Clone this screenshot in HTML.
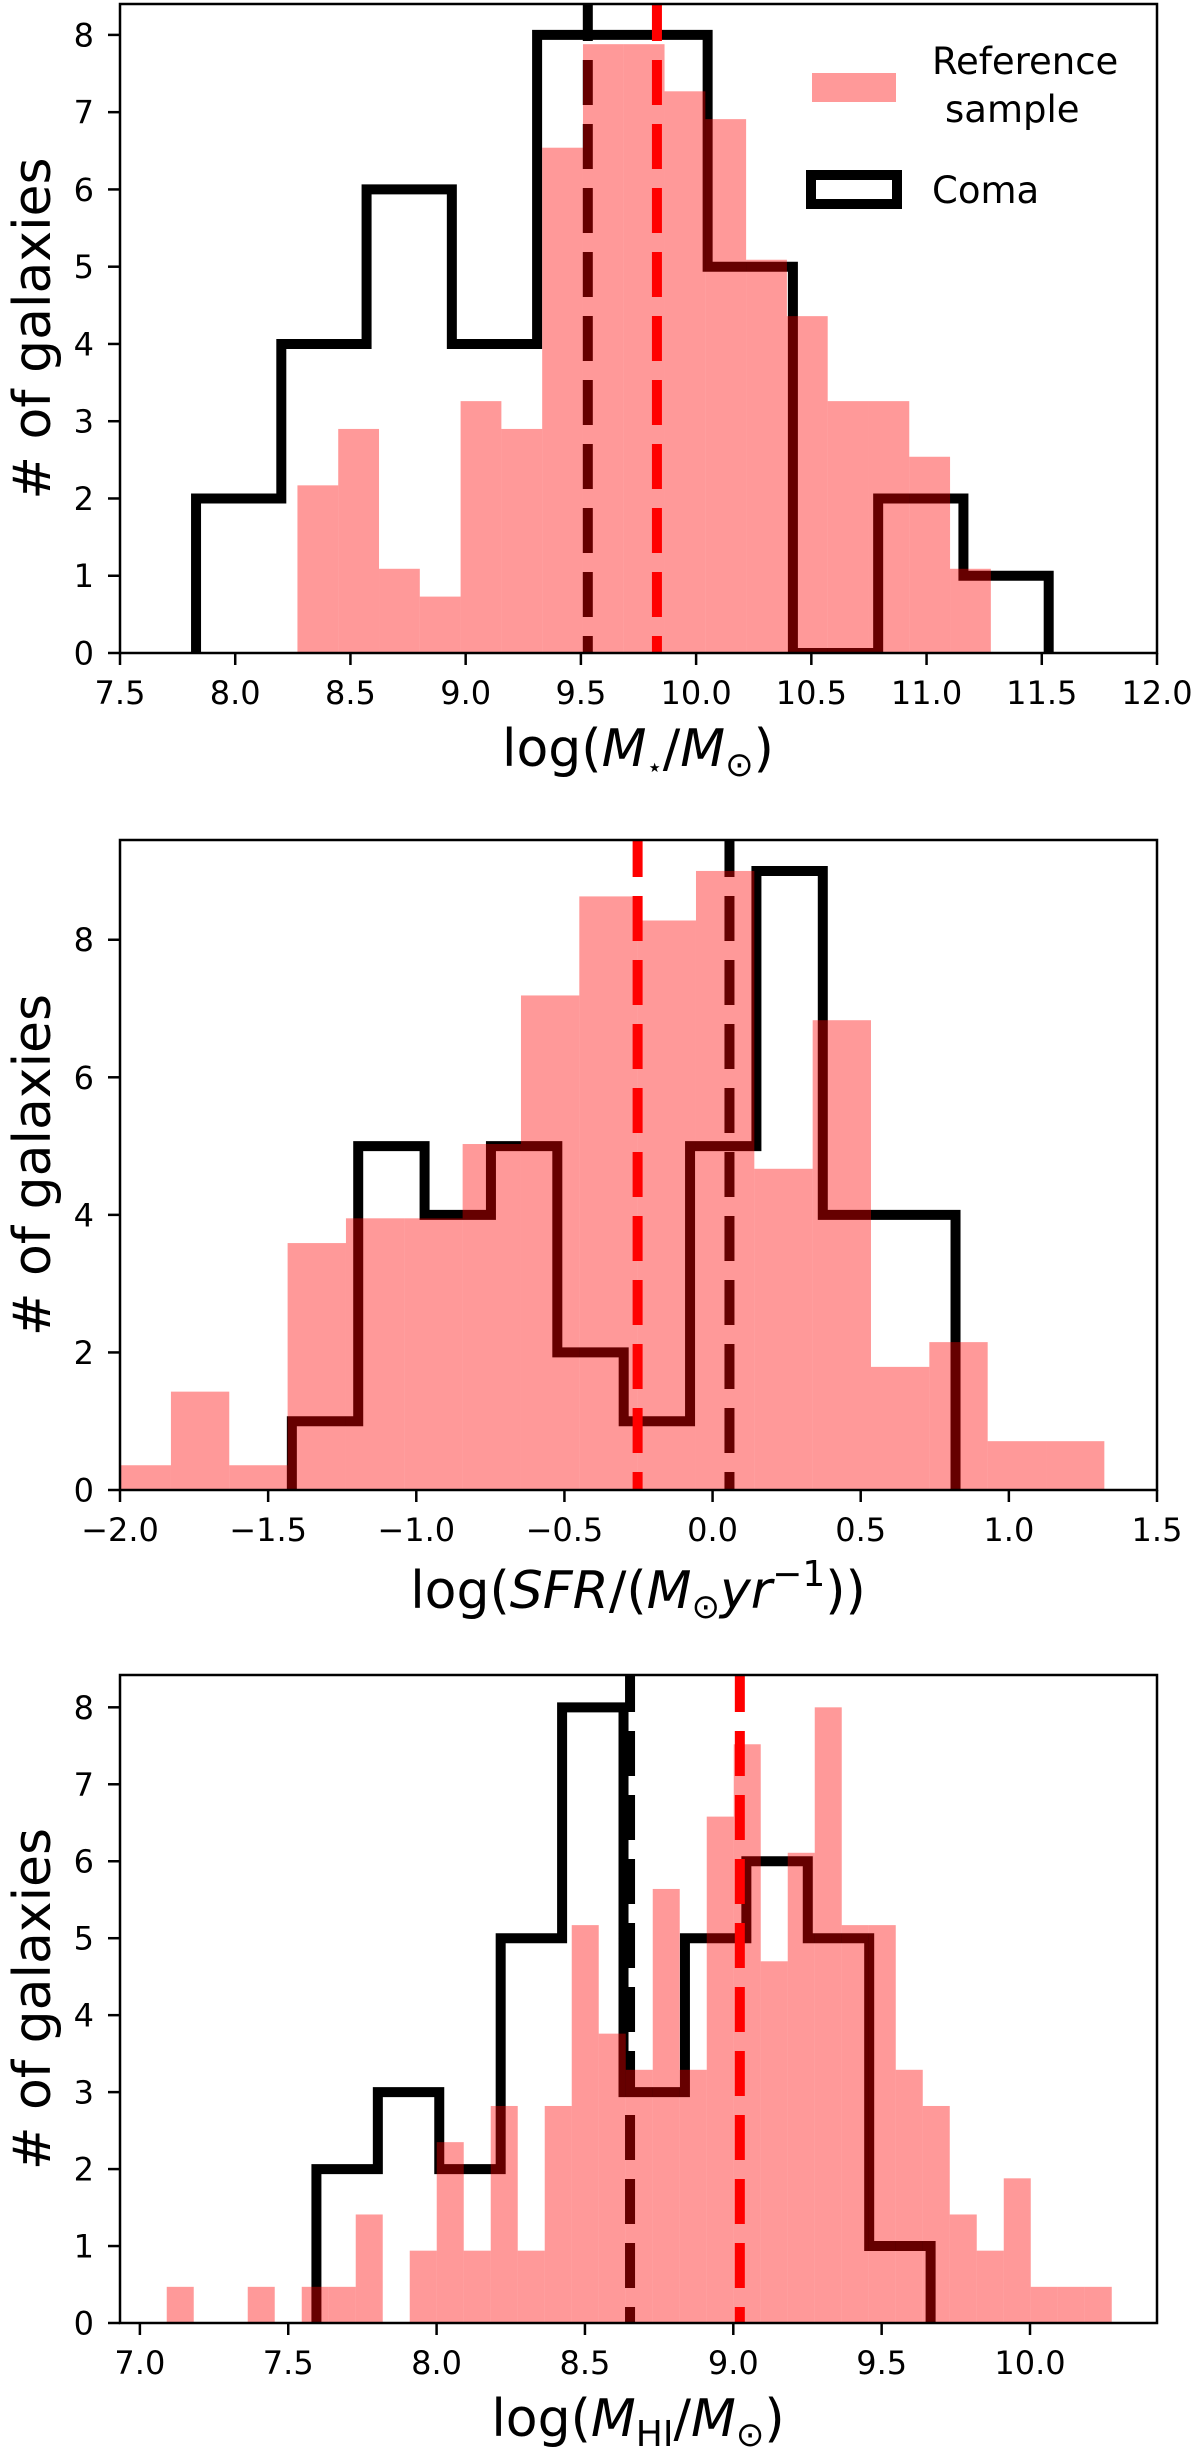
<!DOCTYPE html>
<html><head><meta charset="utf-8">
<style>
html,body{margin:0;padding:0;background:#fff;}
svg{display:block;font-family:"DejaVu Sans","Liberation Sans",sans-serif;}
</style></head>
<body>
<svg id="fig" width="1200" height="2456" viewBox="0 0 1200 2456" xmlns="http://www.w3.org/2000/svg">
<defs>
<clipPath id="c1"><rect x="120" y="4" width="1037" height="649"/></clipPath>
<clipPath id="c2"><rect x="120" y="840" width="1037" height="650"/></clipPath>
<clipPath id="c3"><rect x="120" y="1675" width="1037" height="648"/></clipPath>
</defs>
<g id="p1"></g>
<g id="p2"></g>
<g id="p3"></g>
<g>
  <rect x="812" y="73" width="84" height="29" fill="rgba(255,0,0,0.4)"/>
  <text x="932" y="74" font-size="37">Reference</text>
  <text x="945" y="122" font-size="37">sample</text>
  <rect x="811" y="175" width="86" height="29" fill="none" stroke="#000" stroke-width="10"/>
  <text x="932" y="203" font-size="37">Coma</text>
</g>
</svg>
<script>
// ---------- Panel 1: stellar mass ----------
const p1RefStart = 8.27, p1RefWidth = 0.177;
const p1RefCounts = [2.17,2.9,1.09,0.73,3.26,2.9,6.54,7.88,7.88,7.27,6.91,5.09,4.36,3.26,3.26,2.54,1.09];
const p1ComaStart = 7.83, p1ComaWidth = 0.37;
const p1ComaCounts = [2,4,6,4,8,8,5,0,2,1];
const p1ComaMedian = 9.53, p1RefMedian = 9.83;
const p1XTicks = [7.5,8.0,8.5,9.0,9.5,10.0,10.5,11.0,11.5,12.0];
const p1XTickLabels = ["7.5","8.0","8.5","9.0","9.5","10.0","10.5","11.0","11.5","12.0"];
const p1YTicks = [0,1,2,3,4,5,6,7,8];

// ---------- Panel 2: SFR ----------
const p2RefStart = -2.025, p2RefWidth = 0.1969;
const p2RefCounts = [0.36,1.43,0.36,3.59,3.95,3.95,5.03,7.19,8.63,8.28,9.0,4.67,6.83,1.79,2.15,0.71,0.71];
const p2ComaStart = -1.42, p2ComaWidth = 0.224;
const p2ComaCounts = [1,5,4,5,2,1,5,9,4,4];
const p2ComaMedian = 0.057, p2RefMedian = -0.253;
const p2XTicks = [-2.0,-1.5,-1.0,-0.5,0.0,0.5,1.0,1.5];
const p2XTickLabels = ["\u22122.0","\u22121.5","\u22121.0","\u22120.5","0.0","0.5","1.0","1.5"];
const p2YTicks = [0,2,4,6,8];

// ---------- Panel 3: HI mass ----------
const p3RefStart = 7.0905, p3RefWidth = 0.091;
const p3RefCounts = [0.47,0,0,0.47,0,0.47,0.47,1.41,0,0.94,2.35,0.94,2.82,0.94,2.82,5.17,3.76,3.29,5.64,3.29,6.58,7.52,4.7,6.11,8.0,5.17,5.17,3.29,2.82,1.41,0.94,1.88,0.47,0.47,0.47];
const p3ComaStart = 7.595, p3ComaWidth = 0.207;
const p3ComaCounts = [2,3,2,5,8,3,5,6,5,1];
const p3ComaMedian = 8.652, p3RefMedian = 9.022;
const p3XTicks = [7.0,7.5,8.0,8.5,9.0,9.5,10.0];
const p3XTickLabels = ["7.0","7.5","8.0","8.5","9.0","9.5","10.0"];
const p3YTicks = [0,1,2,3,4,5,6,7,8];

const NS = "http://www.w3.org/2000/svg";
function mk(tag, attrs, parent){
  const e = document.createElementNS(NS, tag);
  for (const k in attrs) e.setAttribute(k, attrs[k]);
  parent.appendChild(e);
  return e;
}

function drawPanel(g, clipId, top, bottom, xmin, xmax, ymax,
                   refStart, refWidth, refCounts, comaStart, comaWidth, comaCounts,
                   comaMed, refMed, xTicks, xTickLabels, yTicks, prefix){
  const L = 120, R = 1157;
  const sx = v => L + (v - xmin) / (xmax - xmin) * (R - L);
  const sy = v => bottom - v / ymax * (bottom - top);
  const plot = mk('g', {'clip-path': 'url(#' + clipId + ')'}, g);

  // Coma step histogram
  let d = 'M' + sx(comaStart) + ',' + sy(0);
  comaCounts.forEach((c, i) => {
    d += ' L' + sx(comaStart + i * comaWidth) + ',' + sy(c);
    d += ' L' + sx(comaStart + (i + 1) * comaWidth) + ',' + sy(c);
  });
  d += ' L' + sx(comaStart + comaCounts.length * comaWidth) + ',' + sy(0);
  const step = mk('path', {d: d, fill: 'none', stroke: '#000', 'stroke-width': 10, 'stroke-linejoin': 'miter'}, plot);
  
  

  // Coma median
  const cm = mk('line', {x1: sx(comaMed), x2: sx(comaMed), y1: top, y2: bottom, stroke: '#000', 'stroke-width': 10, 'stroke-dasharray': '45 19', 'stroke-dashoffset': 8}, plot);
  
  

  // Reference bars
  refCounts.forEach((c, i) => {
    if (c <= 0) return;
    const x0 = sx(refStart + i * refWidth), x1 = sx(refStart + (i + 1) * refWidth);
    const r = mk('rect', {x: x0, y: sy(c), width: x1 - x0, height: sy(0) - sy(c), fill: 'rgba(255,0,0,0.4)'}, plot);
    
    
  });

  // Reference median
  const rm = mk('line', {x1: sx(refMed), x2: sx(refMed), y1: top, y2: bottom, stroke: '#ff0000', 'stroke-width': 10, 'stroke-dasharray': '45 19', 'stroke-dashoffset': 8}, plot);
  
  

  // Frame
  const fr = mk('rect', {x: L, y: top, width: R - L, height: bottom - top, fill: 'none', stroke: '#000', 'stroke-width': 2.5}, g);
  
  

  // X ticks
  xTicks.forEach((t, i) => {
    const x = sx(t);
    const tk = mk('line', {x1: x, x2: x, y1: bottom, y2: bottom + 12, stroke: '#000', 'stroke-width': 2.5}, g);
    
    
    const lb = mk('text', {x: x, y: bottom + 51, 'font-size': 32, 'text-anchor': 'middle'}, g);
    lb.textContent = xTickLabels[i];
    
    
  });
  // Y ticks
  yTicks.forEach(t => {
    const y = sy(t);
    const tk = mk('line', {x1: 108, x2: L, y1: y, y2: y, stroke: '#000', 'stroke-width': 2.5}, g);
    
    
    const lb = mk('text', {x: 94, y: y + 11.5, 'font-size': 32, 'text-anchor': 'end'}, g);
    lb.textContent = String(t);
    
    
  });
  // Y label
  const cy = (top + bottom) / 2;
  const yl = mk('text', {x: 0, y: 0, 'font-size': 52, 'text-anchor': 'middle', transform: 'translate(50,' + cy + ') rotate(-90)'}, g);
  yl.textContent = '# of galaxies';
  
  
}

drawPanel(document.getElementById('p1'), 'c1', 4, 653, 7.5, 12.0, 8.4,
  p1RefStart, p1RefWidth, p1RefCounts, p1ComaStart, p1ComaWidth, p1ComaCounts,
  p1ComaMedian, p1RefMedian, p1XTicks, p1XTickLabels, p1YTicks, 'p1');
drawPanel(document.getElementById('p2'), 'c2', 840, 1490, -2.0, 1.5, 9.45,
  p2RefStart, p2RefWidth, p2RefCounts, p2ComaStart, p2ComaWidth, p2ComaCounts,
  p2ComaMedian, p2RefMedian, p2XTicks, p2XTickLabels, p2YTicks, 'p2');
drawPanel(document.getElementById('p3'), 'c3', 1675, 2323, 6.933, 10.428, 8.42,
  p3RefStart, p3RefWidth, p3RefCounts, p3ComaStart, p3ComaWidth, p3ComaCounts,
  p3ComaMedian, p3RefMedian, p3XTicks, p3XTickLabels, p3YTicks, 'p3');
</script>
<svg width="0" height="0" style="position:absolute"></svg>
<script>
// X axis titles (mathtext-like)
(function(){
  const fig = document.getElementById('fig');
  const NS = "http://www.w3.org/2000/svg";
  function title(name, y, html){
    const t = document.createElementNS(NS, 'text');
    t.setAttribute('x', 638);
    t.setAttribute('y', y);
    t.setAttribute('font-size', 52);
    t.setAttribute('text-anchor', 'middle');
    t.innerHTML = html;
    
    
    fig.appendChild(t);
  }
  title('p1-x-axis-title', 766, 'log(<tspan font-style="italic">M</tspan><tspan font-size="26" dy="10">\u22c6</tspan><tspan dy="-10">/</tspan><tspan font-style="italic">M</tspan><tspan font-size="34" dy="10">\u2299</tspan><tspan dy="-10">)</tspan>');
  title('p2-x-axis-title', 1608, 'log(<tspan font-style="italic">SFR</tspan>/(<tspan font-style="italic">M</tspan><tspan font-size="34" dy="10">\u2299</tspan><tspan dy="-10" font-style="italic">yr</tspan><tspan font-size="36" dy="-22">\u22121</tspan><tspan dy="22">))</tspan>');
  title('p3-x-axis-title', 2436, 'log(<tspan font-style="italic">M</tspan><tspan font-size="36" dy="10">HI</tspan><tspan dy="-10">/</tspan><tspan font-style="italic">M</tspan><tspan font-size="34" dy="10">\u2299</tspan><tspan dy="-10">)</tspan>');
})();
</script>
</body></html>
